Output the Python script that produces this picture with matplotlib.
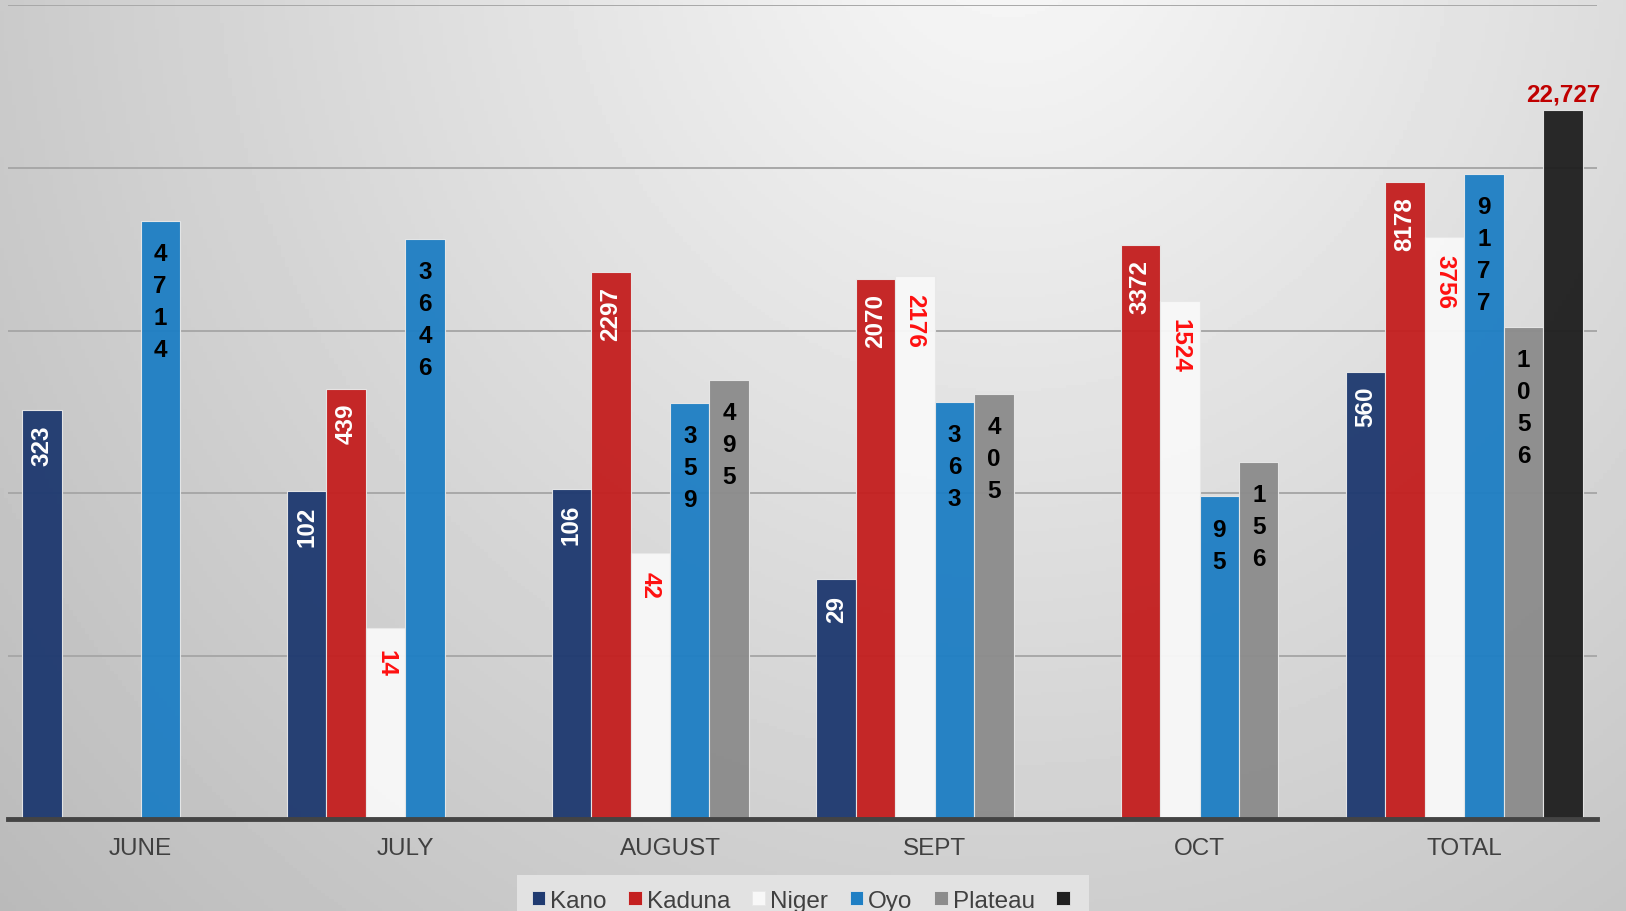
import numpy as np
import matplotlib
matplotlib.use("Agg")
from matplotlib import pyplot as plt
from matplotlib.patches import Patch

plt.rcParams['font.family'] = ['Liberation Sans', 'DejaVu Sans']

# months plus the total group
categories = ['JUNE', 'JULY', 'AUGUST', 'SEPT', 'OCT', 'TOTAL']
series_names = ['Kano', 'Kaduna', 'Niger', 'Oyo', 'Plateau', '']
kano = [323, 102, 106, 29, None, 560]
kaduna = [None, 439, 2297, 2070, 3372, 8178]
niger = [None, 14, 42, 2176, 1524, 3756]
oyo = [4714, 3646, 359, 363, 95, 9177]
plateau = [None, None, 495, 405, 156, 1056]
grand_total = [None, None, None, None, None, 22727]

series = [kano, kaduna, niger, oyo, plateau, grand_total]
colors = ['#1f3a70', '#c42020', '#f8f8f8', '#1f7fc4', '#8c8c8c', '#202020']
# how each series writes its value: (style, text colour)
label_style = [('up', 'white'), ('up', 'white'), ('down', '#ff1010'),
               ('stack', 'black'), ('stack', 'black'), ('top', '#c00000')]

fig = plt.figure(figsize=(16.26, 9.12), dpi=100)

# grey radial background
bg = fig.add_axes([0, 0, 1, 1], zorder=-10)
xx, yy = np.meshgrid(np.linspace(0, 1, 400), np.linspace(0, 1, 300))
r = np.sqrt(((xx - 0.62) / 0.65) ** 2 + ((yy + 0.1) / 1.25) ** 2)
shade = np.clip(0.975 - 0.19 * r, 0, 1)
bg.imshow(shade, cmap='gray', vmin=0, vmax=1, aspect='auto', extent=(0, 1, 1, 0))
bg.set_axis_off()

ax = fig.add_axes([0.005, 0.101, 0.977, 0.892])
ax.set_facecolor('none')
ax.set_yscale('log')
ax.set_ylim(1, 100000)
ax.set_xlim(-0.5, 5.5)

w = 0.149
x = np.arange(len(categories))
for i, (vals, col) in enumerate(zip(series, colors)):
    style, tcol = label_style[i]
    for j, v in enumerate(vals):
        if v is None:
            continue
        xp = x[j] + (i - 2.5) * w
        ax.bar(xp, v, width=w, bottom=1, color=col, edgecolor='#e8e8e8',
               linewidth=0.8, alpha=0.96, zorder=3)
        if style == 'up':
            ax.annotate(str(v), (xp, v), xytext=(0, -10), textcoords='offset points',
                        rotation=90, ha='center', va='top', color=tcol,
                        fontsize=17.5, fontweight='bold', zorder=5)
        elif style == 'down':
            ax.annotate(str(v), (xp, v), xytext=(0, -12), textcoords='offset points',
                        rotation=270, ha='center', va='top', color=tcol,
                        fontsize=17.5, fontweight='bold', zorder=5)
        elif style == 'stack':
            ax.annotate('\n'.join(str(v)), (xp, v), xytext=(0, -15),
                        textcoords='offset points', ha='center', va='top',
                        color=tcol, fontsize=17.5, fontweight='bold',
                        linespacing=1.5, zorder=5)
        else:
            ax.annotate(f'{v:,}', (xp, v), xytext=(0, 3), textcoords='offset points',
                        ha='center', va='bottom', color=tcol, fontsize=17.5,
                        fontweight='bold', zorder=5)

# gridlines at each decade
for g in [10, 100, 1000, 10000, 100000]:
    ax.axhline(g, color='#a8a8a8', linewidth=1.4, zorder=1)

ax.axhline(1, color='#444444', linewidth=3.5, zorder=6, clip_on=False)
for s in ax.spines.values():
    s.set_visible(False)
ax.set_yticks([])
ax.minorticks_off()
ax.set_xticks(x)
ax.set_xticklabels(categories, fontsize=17.5, color='#404040')
ax.tick_params(axis='x', length=0, pad=13)

handles = [Patch(facecolor=c, edgecolor='#e8e8e8', linewidth=0.6) for c in colors]
leg = fig.legend(handles, series_names, loc='lower center', bbox_to_anchor=(0.494, -0.03),
                 ncol=6, frameon=True, fontsize=17.5, handlelength=0.55, handleheight=0.55,
                 handletextpad=0.2, columnspacing=0.9, borderpad=0.6)
leg.get_frame().set_facecolor('#e2e2e2')
leg.get_frame().set_edgecolor('none')
leg.get_frame().set_alpha(1)
leg.get_frame().set_boxstyle('square', pad=0.0)
for t in leg.get_texts():
    t.set_color('#404040')

plt.savefig('out.png', dpi=100)
